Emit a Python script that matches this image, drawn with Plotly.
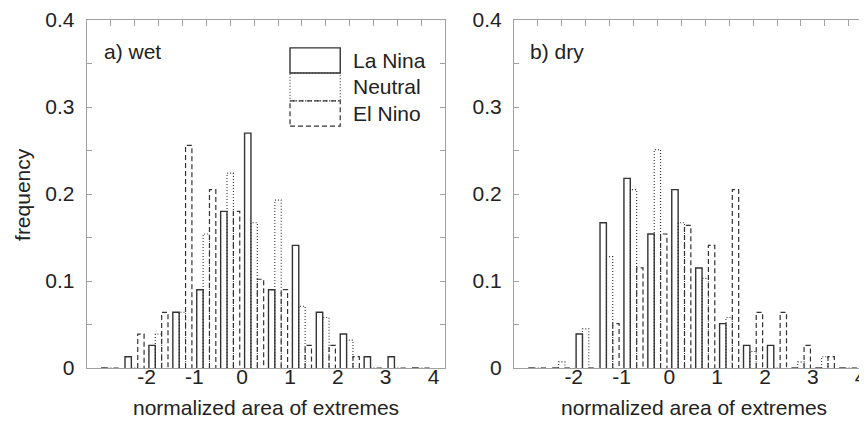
import plotly.graph_objects as go

# bin centres (normalized area of extremes), bin width 0.5
bin_centers = [-2.75, -2.25, -1.75, -1.25, -0.75, -0.25, 0.25, 0.75,
               1.25, 1.75, 2.25, 2.75, 3.25, 3.75]

# a) wet
wet_lanina = [0, 0.013, 0.026, 0.064, 0.090, 0.180, 0.270, 0.090, 0.141, 0.064, 0.039, 0.013, 0.013, 0]
wet_neutral = [0, 0, 0.039, 0.064, 0.154, 0.224, 0.167, 0.193, 0.071, 0.058, 0.032, 0, 0, 0]
wet_elnino = [0, 0.039, 0.064, 0.256, 0.205, 0.180, 0.102, 0.090, 0.026, 0.026, 0.013, 0, 0, 0]

# b) dry
dry_lanina = [0, 0, 0.039, 0.167, 0.218, 0.154, 0.205, 0.115, 0.051, 0.026, 0.026, 0, 0, 0]
dry_neutral = [0, 0.007, 0.045, 0.128, 0.205, 0.251, 0.167, 0.103, 0.058, 0.019, 0, 0.007, 0.013, 0]
dry_elnino = [0, 0, 0, 0.051, 0.115, 0.154, 0.164, 0.141, 0.205, 0.064, 0.064, 0.026, 0.013, 0]

series_names = ['La Nina', 'Neutral', 'El Nino']
x_ticks = [-2, -1, 0, 1, 2, 3, 4]
top_ticks = [c for c in bin_centers]
y_ticks = [0, 0.1, 0.2, 0.3, 0.4]
y_minor = [0.05, 0.15, 0.25, 0.35]

FONT = 'Liberation Sans'
TXT = '#222222'
BAR = '#333333'
AX = '#a0a0a0'
styles = [dict(width=1.4, dash='solid'),
          dict(width=1.1, dash='1px,2px'),
          dict(width=1.2, dash='5px,3px')]

BW = 0.133  # width of one bar inside a bin


def outline(values, k):
    """Open-bottom rectangle outlines for series k"""
    xs, ys = [], []
    for c, h in zip(bin_centers, values):
        left = c - 0.2 + k * BW
        right = left + BW
        xs += [left, left, right, right, None]
        ys += [0, h, h, 0, None]
    return xs, ys


fig = go.Figure()

for xa, ya, data in [('x', 'y', [wet_lanina, wet_neutral, wet_elnino]),
                     ('x2', 'y2', [dry_lanina, dry_neutral, dry_elnino])]:
    for k in [2, 1, 0]:
        xs, ys = outline(data[k], k)
        fig.add_trace(go.Scatter(
            x=xs, y=ys, mode='lines', name=series_names[k],
            line=dict(color=BAR, width=styles[k]['width'], dash=styles[k]['dash']),
            xaxis=xa, yaxis=ya, showlegend=False, hoverinfo='skip'
        ))

# empty traces so the top (tick-only) axes get drawn
for xa, ya in [('x3', 'y'), ('x4', 'y2')]:
    fig.add_trace(go.Scatter(x=[None], y=[None], mode='lines', xaxis=xa, yaxis=ya,
                             showlegend=False, hoverinfo='skip'))

# the page body adds 8px around the figure, so the figure is 8px smaller
x_left = [0.09197, 0.51106]
x_right = [0.59104, 1.0]
right_range = [-3.25, 4.069]

common_x = dict(showgrid=False, zeroline=False, showline=True, linecolor=AX, linewidth=1,
                ticks='', tickvals=x_ticks, ticktext=[str(t) for t in x_ticks],
                tickfont=dict(family=FONT, size=21, color=TXT), ticklabeloverflow='allow',
                ticklabelstandoff=-10)
common_top = dict(showgrid=False, zeroline=False, showline=True, linecolor=AX, linewidth=1,
                  side='top', ticks='inside', ticklen=6, tickcolor=AX, tickvals=top_ticks,
                  showticklabels=False)
common_y = dict(showgrid=False, zeroline=False, showline=True, linecolor=AX, linewidth=1,
                range=[0, 0.4], tickvals=y_ticks, ticktext=['0', '0.1', '0.2', '0.3', '0.4'],
                ticks='inside', ticklen=5, tickcolor=AX,
                minor=dict(tickvals=y_minor, ticks='inside', ticklen=5, tickcolor=AX),
                tickfont=dict(family=FONT, size=21, color=TXT), ticklabelstandoff=7,
                ticklabeloverflow='allow')

fig.update_layout(
    width=859, height=420,
    margin=dict(l=0, r=0, t=7, b=60),
    plot_bgcolor='white', paper_bgcolor='white',
    font=dict(family=FONT, size=21, color=TXT),
    xaxis=dict(domain=x_left, range=[-3.25, 4.25], anchor='y', **common_x),
    xaxis2=dict(domain=x_right, range=right_range, anchor='y2', **common_x),
    xaxis3=dict(overlaying='x', anchor='y', range=[-3.25, 4.25], **common_top),
    xaxis4=dict(overlaying='x2', anchor='y2', range=right_range, **common_top),
    yaxis=dict(anchor='x', mirror='ticks', **common_y),
    yaxis2=dict(anchor='x2', **common_y),
)

# legend boxes (drawn inside panel a)
legend_rows = [(0.339, 0.368), (0.307, 0.339), (0.278, 0.307)]
for k, (y0, y1) in enumerate(legend_rows):
    fig.add_shape(type='rect', xref='x', yref='y', x0=1.0, x1=2.05, y0=y0, y1=y1,
                  line=dict(color=BAR, width=styles[k]['width'], dash=styles[k]['dash']),
                  fillcolor='rgba(0,0,0,0)')
    fig.add_annotation(xref='x', yref='y', x=2.28, y=(y0 + y1) / 2, text=series_names[k],
                       showarrow=False, xanchor='left', yanchor='middle',
                       font=dict(family=FONT, size=21, color=TXT))

fig.add_annotation(xref='x', yref='y', x=-2.93, y=0.364, text='a) wet', showarrow=False,
                   xanchor='left', yanchor='middle', font=dict(family=FONT, size=21, color=TXT))
fig.add_annotation(xref='x2', yref='y2', x=-2.96, y=0.364, text='b) dry', showarrow=False,
                   xanchor='left', yanchor='middle', font=dict(family=FONT, size=21, color=TXT))

fig.add_annotation(xref='paper', yref='paper', x=0.0163, y=0.5, text='frequency', textangle=-90,
                   showarrow=False, xanchor='center', yanchor='middle',
                   font=dict(family=FONT, size=21, color=TXT))
for xc in [0.3015, 0.801]:
    fig.add_annotation(xref='paper', yref='paper', x=xc, y=-0.114, text='normalized area of extremes',
                       showarrow=False, xanchor='center', yanchor='middle',
                       font=dict(family=FONT, size=21, color=TXT))

fig.write_html('out.html')
